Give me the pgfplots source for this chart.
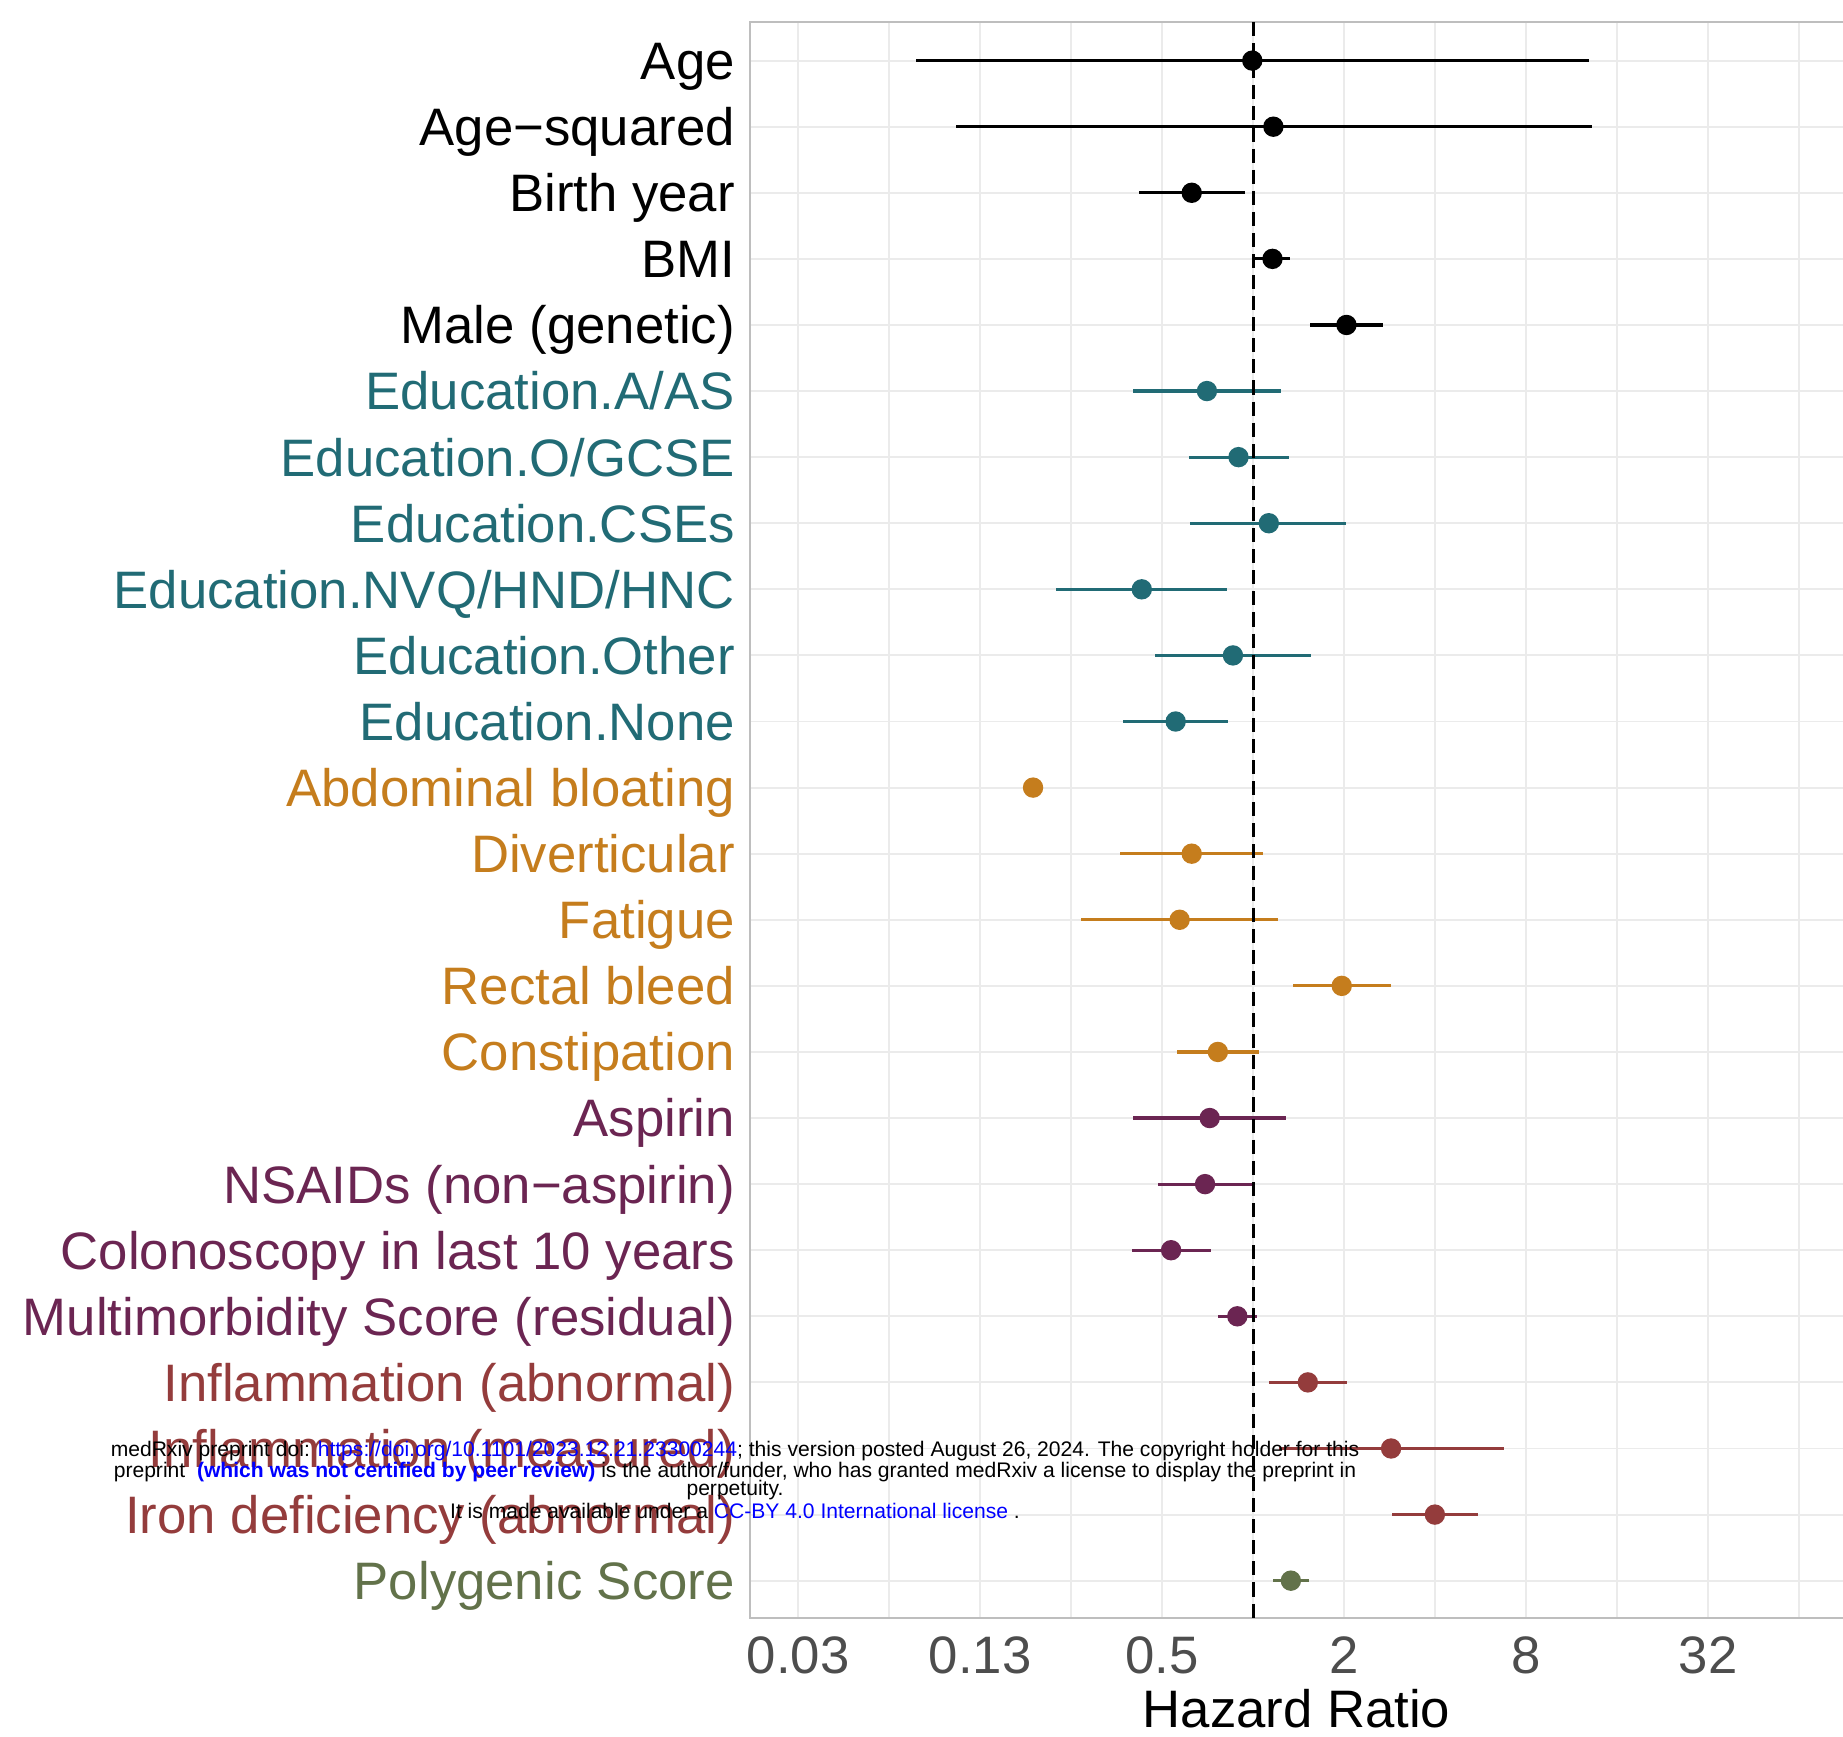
\documentclass[border=0pt]{standalone}
\usepackage{fontspec}
\setmainfont{Liberation Sans}
\usepackage{pgfplots}
\usepackage{pgfplotstable}
\pgfplotsset{compat=1.18}

\definecolor{cblack}{HTML}{000000}
\definecolor{cteal}{HTML}{216B75}
\definecolor{corange}{HTML}{C57D1D}
\definecolor{cpurple}{HTML}{6B2552}
\definecolor{cred}{HTML}{943C3C}
\definecolor{cgreen}{HTML}{62724A}
\definecolor{gridgray}{HTML}{EBEBEB}
\definecolor{framegray}{HTML}{BEBEBE}
\definecolor{tickgray}{HTML}{4D4D4D}
\definecolor{wmblue}{HTML}{0000FF}

% hazard ratio, lower and upper CI; idx = row from the top
\pgfplotstableread{
idx est lo hi
0 0.993 0.0764 12.9
1 1.166 0.1037 13.18
2 0.626 0.419 0.936
3 1.158 1.017 1.327
4 2.034 1.537 2.689
}\basic
\pgfplotstableread{
idx est lo hi
5 0.703 0.400 1.238
6 0.894 0.613 1.309
7 1.126 0.619 2.027
8 0.428 0.2235 0.817
9 0.857 0.473 1.558
10 0.554 0.372 0.825
}\educ
\pgfplotstableread{
idx est lo hi
11 0.187 0.187 0.187
12 0.626 0.362 1.080
13 0.571 0.270 1.212
14 1.963 1.351 2.854
15 0.764 0.560 1.047
}\sympt
\pgfplotstableread{
idx est lo hi
16 0.718 0.400 1.286
17 0.693 0.485 0.990
18 0.535 0.397 0.725
19 0.886 0.762 1.032
}\medic
\pgfplotstableread{
idx est lo hi
20 1.516 1.126 2.041
21 2.858 1.220 6.765
22 3.990 2.876 5.537
}\blood
\pgfplotstableread{
idx est lo hi
23 1.332 1.165 1.528
}\genet

\newcommand{\forest}[2]{%
  \addplot[only marks, mark=*, mark size=2.7pt, color=#1,
    error bars/.cd, x dir=both, x explicit, error mark=none,
    error bar style={line width=0.9pt, color=#1}]
    table[x expr={ln(\thisrow{est})/ln(2)}, y=idx,
      x error plus expr={(ln(\thisrow{hi})-ln(\thisrow{est}))/ln(2)},
      x error minus expr={(ln(\thisrow{est})-ln(\thisrow{lo}))/ln(2)}] {#2};}

\begin{document}
\begin{tikzpicture}
\useasboundingbox (-75mm,-11.9mm) rectangle (109.3mm,161.8mm);
\begin{axis}[
  at={(0,0)}, anchor=south west,
  width=109.3mm, height=159.6mm, scale only axis,
  xmin=-5.530, xmax=6.481,
  y dir=reverse, ymin=-0.584, ymax=23.565,
  clip=false,
  axis line style={draw=none},
  tick style={draw=none},
  major tick length=0pt, minor tick length=0pt,
  xtick={-5,-3,-1,1,3,5},
  xticklabels={0.03,0.13,0.5,2,8,32},
  minor xtick={-4,-2,0,2,4,6},
  ytick={0,...,23},
  yticklabels={
    {\color{cblack}Age},
    {\color{cblack}Age−squared},
    {\color{cblack}Birth year},
    {\color{cblack}BMI},
    {\color{cblack}Male (genetic)},
    {\color{cteal}Education.A/AS},
    {\color{cteal}Education.O/GCSE},
    {\color{cteal}Education.CSEs},
    {\color{cteal}Education.NVQ/HND/HNC},
    {\color{cteal}Education.Other},
    {\color{cteal}Education.None},
    {\color{corange}Abdominal bloating},
    {\color{corange}Diverticular},
    {\color{corange}Fatigue},
    {\color{corange}Rectal bleed},
    {\color{corange}Constipation},
    {\color{cpurple}Aspirin},
    {\color{cpurple}NSAIDs (non−aspirin)},
    {\color{cpurple}Colonoscopy in last 10 years},
    {\color{cpurple}Multimorbidity Score (residual)},
    {\color{cred}Inflammation (abnormal)},
    {\color{cred}Inflammation (measured)},
    {\color{cred}Iron deficiency (abnormal)},
    {\color{cgreen}Polygenic Score}},
  xticklabel style={font=\fontsize{15}{18}\selectfont, text=tickgray,
    anchor=base, inner sep=0pt, yshift=-5.5mm},
  yticklabel style={font=\fontsize{15}{18}\selectfont,
    anchor=base east, inner sep=0pt, xshift=-1.45mm, yshift=-1.89mm},
  xmajorgrids, xminorgrids, ymajorgrids,
  major grid style={gridgray, line width=0.55pt},
  minor grid style={gridgray, line width=0.45pt},
  xlabel={Hazard Ratio},
  xlabel style={at={(axis description cs:0.5,0)}, anchor=base,
    inner sep=0pt, yshift=-10.9mm, font=\fontsize{15}{18}\selectfont},
]
\draw[framegray, line width=0.8pt] (rel axis cs:1,0) -- (rel axis cs:0,0)
  -- (rel axis cs:0,1) -- (rel axis cs:1,1);
\forest{cblack}{\basic}
\forest{cteal}{\educ}
\forest{corange}{\sympt}
\forest{cpurple}{\medic}
\forest{cred}{\blood}
\forest{cgreen}{\genet}
\draw[black, line width=0.85pt, dash pattern=on 4pt off 2pt]
  (axis cs:0,-0.584) -- (axis cs:0,23.565);
\end{axis}
\begin{scope}[every node/.style={anchor=base, inner sep=0pt,
    font=\fontsize{6}{7}\selectfont}]
\node at (-1.5mm,16.1mm) {medRxiv preprint doi: \textcolor{wmblue}{https://doi.org/10.1101/2023.12.21.23300244}; this version posted August 26, 2024. The copyright holder for this};
\node at (-1.5mm,14.05mm) {preprint\ \ \textcolor{wmblue}{\bfseries (which was not certified by peer review)} is the author/funder, who has granted medRxiv a license to display the preprint in};
\node at (-1.5mm,12.2mm) {perpetuity.};
\node at (-1.5mm,9.9mm) {It is made available under a \textcolor{wmblue}{CC-BY 4.0 International license} .};
\end{scope}
\end{tikzpicture}
\end{document}
